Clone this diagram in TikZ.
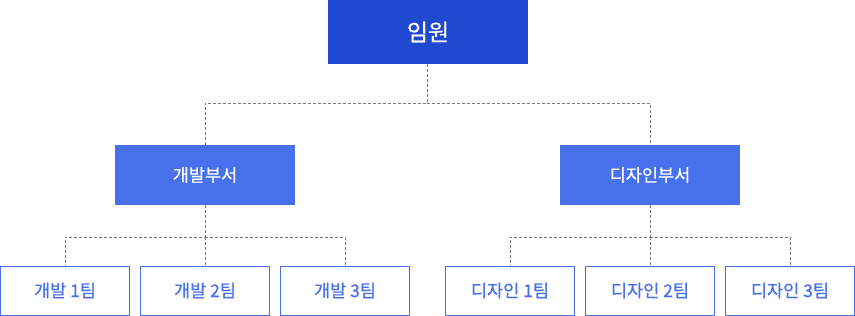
\documentclass[tikz,border=0pt]{standalone}
\usepackage{fontspec}
\usepackage{tikz}
\usetikzlibrary{calc,positioning}
\usepackage{xcolor}
\newfontfamily\kr[FakeBold=0.6]{Noto Sans CJK KR}
\definecolor{topblue}{RGB}{31,73,208}
\definecolor{midblue}{RGB}{71,112,235}
\definecolor{lineGray}{RGB}{120,120,120}
\tikzset{
  topbox/.style={rectangle, fill=topblue, text=white, minimum width=200pt, minimum height=64pt, inner sep=0pt, font=\kr\fontsize{23}{27}\selectfont},
  deptbox/.style={rectangle, fill=midblue, text=white, minimum width=180pt, minimum height=60pt, inner sep=0pt, font=\kr\fontsize{17.5}{21}\selectfont},
  teambox/.style={rectangle, draw=midblue, line width=1pt, fill=white, text=midblue, minimum width=129pt, minimum height=49pt, inner sep=0pt, font=\kr\fontsize{17.5}{21}\selectfont},
  conn/.style={lineGray, line width=0.9pt, dash pattern=on 3pt off 2pt}
}
\begin{document}
\begin{tikzpicture}[x=1pt,y=1pt]
  \useasboundingbox (0,0) rectangle (855,-316);

  % executives
  \node[topbox] (exec) at (428,-32) {임원};

  % departments
  \node[deptbox] (dev) at (205,-175) {개발부서};
  \node[deptbox] (des) at (650,-175) {디자인부서};

  % dev teams
  \node[teambox] (dev1) at (65,-290.5) {개발 1팀};
  \node[teambox] (dev2) at (205,-290.5) {개발 2팀};
  \node[teambox] (dev3) at (345,-290.5) {개발 3팀};

  % design teams
  \node[teambox] (des1) at (510,-290.5) {디자인 1팀};
  \node[teambox] (des2) at (650,-290.5) {디자인 2팀};
  \node[teambox] (des3) at (790,-290.5) {디자인 3팀};

  % connectors
  \coordinate (j0) at (427,-103);
  \coordinate (j1) at (205,-237);
  \coordinate (j2) at (650,-237);
  \draw[conn] (exec.south -| j0) -- (j0) -| (dev.north);
  \draw[conn] (j0) -| (des.north);
  \draw[conn] (dev.south) -- (j1) -| (dev1.north);
  \draw[conn] (j1) -| (dev3.north);
  \draw[conn] (j1) -- (dev2.north);
  \draw[conn] (des.south) -- (j2) -| (des1.north);
  \draw[conn] (j2) -| (des3.north);
  \draw[conn] (j2) -- (des2.north);
\end{tikzpicture}
\end{document}
